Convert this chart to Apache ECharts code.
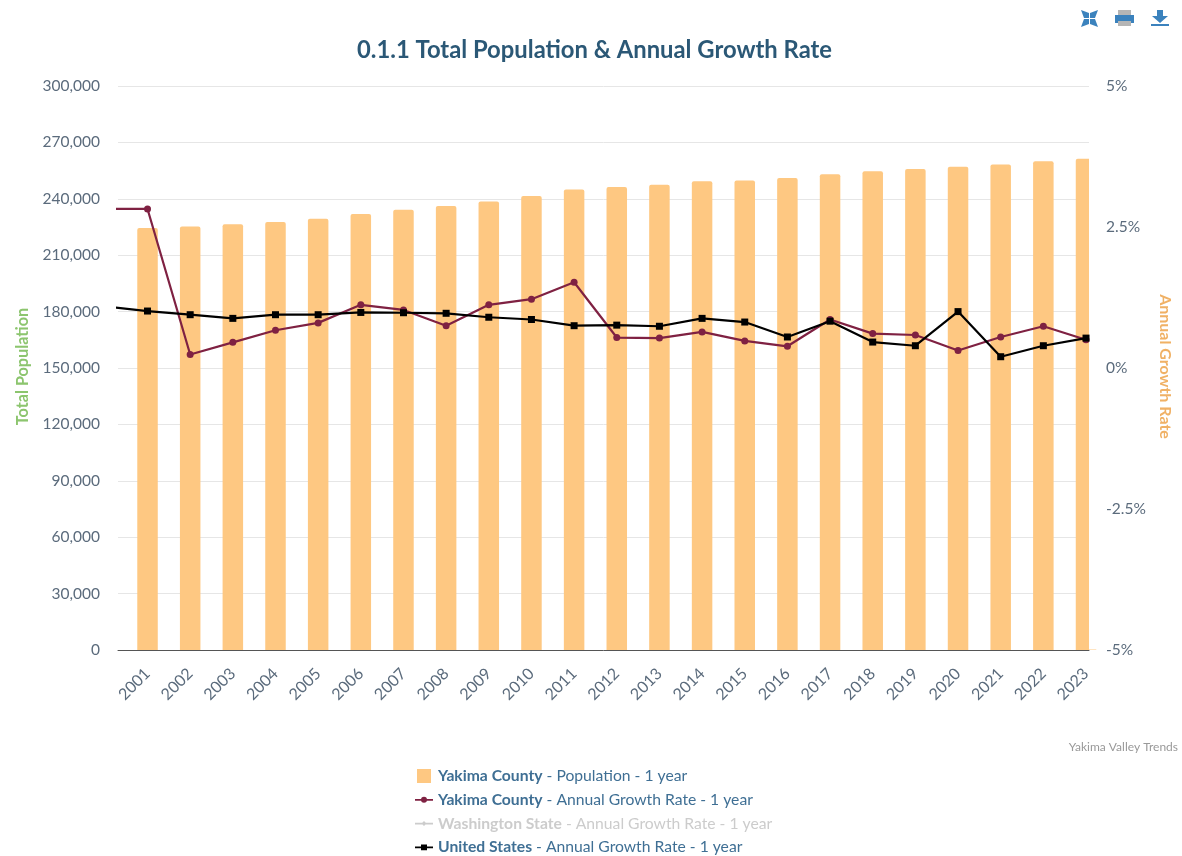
<!DOCTYPE html>
<html>
<head>
<meta charset="utf-8">
<style>html,body{margin:0;padding:0;background:#fff}#c{width:1182px;height:856px}</style>
<script src="https://cdn.jsdelivr.net/npm/echarts@6/dist/echarts.min.js"></script>
</head>
<body>
<div id="c"></div>
<script>
const years = [2001,2002,2003,2004,2005,2006,2007,2008,2009,2010,2011,2012,2013,2014,2015,2016,2017,2018,2019,2020,2021,2022,2023];
const population = [224500,225200,226400,227700,229400,231900,234200,236200,238500,241500,245000,246300,247500,249300,249800,251000,253000,254600,255800,257000,258300,260000,261300];
const lineYears = [2000].concat(years);
const yakimaRate = [2.82,2.82,0.24,0.455,0.67,0.80,1.12,1.03,0.75,1.12,1.22,1.52,0.54,0.53,0.64,0.48,0.385,0.86,0.61,0.585,0.31,0.55,0.74,0.50];
const usRate = [1.09,1.01,0.945,0.88,0.945,0.945,0.985,0.98,0.97,0.90,0.86,0.75,0.76,0.74,0.88,0.815,0.55,0.83,0.46,0.395,1.0,0.20,0.395,0.53];
const rateLabels = {'-5':'-5%','-2.5':'-2.5%','0':'0%','2.5':'2.5%','5':'5%'};
const font = 'Lato';
const zip = (xs, ys) => xs.map((x, i) => [x, ys[i]]);

const chart = echarts.init(document.getElementById('c'), null, {renderer: 'canvas'});
const N1 = 'Yakima County - Population - 1 year';
const N2 = 'Yakima County - Annual Growth Rate - 1 year';
const N3 = 'Washington State - Annual Growth Rate - 1 year';
const N4 = 'United States - Annual Growth Rate - 1 year';
const blue = '#3b82bd', grey = '#b5b5b5', tickColor = '#5b6b7c';
const lineBar = 'M0 2.1H18V3.9H0Z';
chart.setOption({
  animation: false,
  backgroundColor: '#fff',
  textStyle: {fontFamily: font},
  title: [
    {text: '0.1.1 Total Population & Annual Growth Rate', left: 589.5, textAlign: 'center', top: 33,
     textStyle: {fontFamily: font, fontSize: 23.8, fontWeight: 'bold', color: '#2b5876'}},
    {text: 'Yakima Valley Trends', right: -1, top: 736,
     textStyle: {fontFamily: font, fontSize: 12, fontWeight: 'normal', color: '#999'}}
  ],
  grid: {left: 118, right: 93, top: 86, bottom: 206},
  xAxis: {
    type: 'value', min: 2000.308, max: 2023.07,
    splitLine: {show: false},
    axisLine: {show: true, onZero: false, lineStyle: {color: '#555', width: 1}},
    axisTick: {show: false, customValues: years},
    axisLabel: {customValues: years, rotate: 45, margin: 21, fontSize: 16, color: tickColor, hideOverlap: false,
      fontFamily: font, formatter: v => String(v)}
  },
  yAxis: [
    {type: 'value', min: 0, max: 300000, interval: 30000, position: 'left',
     name: 'Total Population', nameLocation: 'middle', nameRotate: 90, nameGap: 87,
     nameTextStyle: {color: '#8cc56e', fontSize: 16.2, fontWeight: 'bold', fontFamily: font, padding: [0,0,0,3]},
     axisLine: {show: false}, axisTick: {show: false},
     axisLabel: {fontSize: 15.5, color: tickColor, margin: 18, fontFamily: font,
       formatter: v => v.toLocaleString('en-US')},
     splitLine: {show: true, lineStyle: {color: '#e6e6e6', width: 1}}},
    {type: 'value', min: -5, max: 5, interval: 2.5, position: 'right',
     name: 'Annual Growth Rate', nameLocation: 'middle', nameRotate: -90, nameGap: 64,
     nameTextStyle: {color: '#f0b165', fontSize: 16, fontWeight: 'bold', fontFamily: font, padding: [0,3,0,0]},
     axisLine: {show: false}, axisTick: {show: false},
     axisLabel: {fontSize: 15.5, color: tickColor, margin: 17, fontFamily: font,
       formatter: v => rateLabels[String(v)]},
     splitLine: {show: false}}
  ],
  legend: {
    orient: 'vertical', left: 410, top: 763, height: 120, itemWidth: 18, itemHeight: 14, itemGap: 7.8, itemStyle: {borderWidth: 0},
    inactiveColor: '#cccccc', align: 'left',
    selected: {[N3]: false},
    data: [
      {name: N1, icon: 'path://M0 0H10V10H0Z'},
      {name: N2, icon: 'path://' + lineBar + 'M6 3A3 3 0 1 1 12 3A3 3 0 1 1 6 3Z'},
      {name: N3, icon: 'path://' + lineBar + 'M9 0.5L11.5 3L9 5.5L6.5 3Z'},
      {name: N4, icon: 'path://' + lineBar + 'M6 0.2H12V5.8H6Z'}
    ],
    textStyle: {fontFamily: font, fontSize: 15.7, color: '#3f6f94',
      rich: {b: {fontWeight: 'bold', fontFamily: font, fontSize: 15.7, lineHeight: 18}}},
    formatter: n => { const i = n.indexOf(' - '); return '{b|' + n.slice(0, i) + '}' + n.slice(i); }
  },
  series: [
    {name: N1, type: 'bar', yAxisIndex: 0, barWidth: 20.5, clip: true, z: 1,
     itemStyle: {color: '#fec882', borderRadius: [2,2,0,0]},
     data: zip(years, population)},
    {name: N2, type: 'line', yAxisIndex: 1, clip: true, z: 3, symbol: 'circle', symbolSize: 7,
     itemStyle: {color: '#7f2142'}, lineStyle: {color: '#7f2142', width: 2.2},
     data: zip(lineYears, yakimaRate)},
    {name: N3, type: 'line', yAxisIndex: 1, z: 2, symbol: 'diamond', symbolSize: 7,
     itemStyle: {color: '#999'}, lineStyle: {color: '#999', width: 2}, data: []},
    {name: N4, type: 'line', yAxisIndex: 1, clip: true, z: 4, symbol: 'rect', symbolSize: 7,
     itemStyle: {color: '#000'}, lineStyle: {color: '#000', width: 2.2},
     data: zip(lineYears, usRate)}
  ],
  graphic: [
    {type: 'rect', z: 2, shape: {x: 1089, y: 140, width: 10, height: 509.5}, style: {fill: '#fff'}},
    {type: 'polygon', shape: {points: [[1081,10],[1089,13],[1089,18],[1084,18]]}, style: {fill: blue}},
    {type: 'polygon', shape: {points: [[1098,10],[1090,13],[1090,18],[1095,18]]}, style: {fill: blue}},
    {type: 'polygon', shape: {points: [[1081,27],[1089,24],[1089,19],[1084,19]]}, style: {fill: blue}},
    {type: 'polygon', shape: {points: [[1098,27],[1090,24],[1090,19],[1095,19]]}, style: {fill: blue}},
    {type: 'rect', shape: {x: 1118, y: 10, width: 13, height: 6}, style: {fill: grey}},
    {type: 'rect', shape: {x: 1115, y: 15, width: 19, height: 8}, style: {fill: blue}},
    {type: 'rect', shape: {x: 1118, y: 21, width: 13, height: 5}, style: {fill: grey}},
    {type: 'polygon', shape: {points: [[1157,10],[1163,10],[1163,16],[1168,16],[1160,23],[1152,16],[1157,16]]}, style: {fill: blue}},
    {type: 'rect', shape: {x: 1151, y: 24, width: 18, height: 2}, style: {fill: blue}}
  ]
});
</script>
</body>
</html>
